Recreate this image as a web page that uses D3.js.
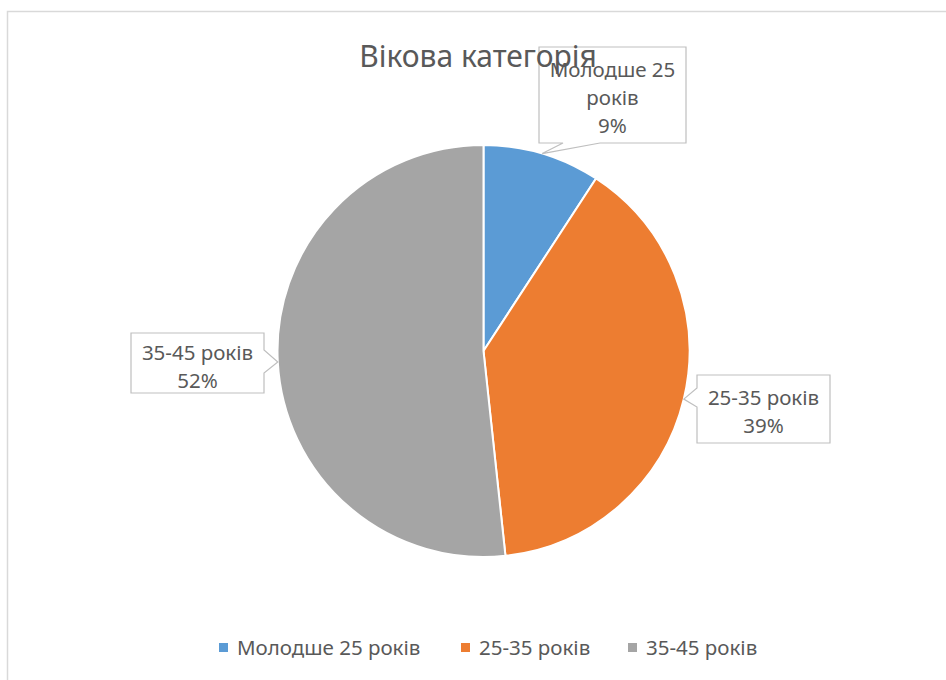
<!DOCTYPE html>
<html><head><meta charset="utf-8">
<script src="https://cdn.jsdelivr.net/npm/d3@7"></script>
<style>body{margin:0;background:#fff}svg{display:block}text{font-family:"Noto Sans",sans-serif;fill:#595959}</style>
</head><body>
<script>
const categories = ["Молодше 25 років", "25-35 років", "35-45 років"];
const labelLines = [["Молодше 25", "років"], ["25-35 років"], ["35-45 років"]];
const values = [9.2, 39.1, 51.7];
const colors = ["#5B9BD5", "#ED7D31", "#A5A5A5"];
const title = "Вікова категорія";

const W = 946, H = 680;
const svg = d3.select("body").append("svg").attr("width", W).attr("height", H);
svg.append("rect").attr("x", 7.5).attr("y", 11.5).attr("width", W).attr("height", H)
  .attr("fill", "#fff").attr("stroke", "#d9d9d9").attr("stroke-width", 1.5);

const cx = 483.5, cy = 351, r = 206;
const pie = d3.pie().sort(null).value(d => d);
const arcs = pie(values);
const arc = d3.arc().innerRadius(0).outerRadius(r);
const edge = d3.arc().innerRadius(r).outerRadius(r);
const g = svg.append("g").attr("transform", `translate(${cx},${cy})`);
g.selectAll("path").data(arcs).join("path")
  .attr("d", arc).attr("fill", (d, i) => colors[i])
  .attr("stroke", "#fff").attr("stroke-width", 2);

// callout layout: box rect (absolute), side of pointer, pointer base coords
const boxes = [
  {x0: 539, y0: 47, x1: 686, y1: 143, side: "bottom", b: [600, 563], ty: 70},
  {x0: 697, y0: 375, x1: 830, y1: 443, side: "left", b: [407, 388], ty: 398},
  {x0: 131, y0: 333, x1: 264, y1: 393, side: "right", b: [350, 373], ty: 353}
];
const fmt = d3.format(".0%");
const total = d3.sum(values);
arcs.forEach((a, i) => {
  const bx = boxes[i];
  const c = edge.centroid(a);
  const tx = cx + c[0], ty = cy + c[1];
  let p;
  if (bx.side === "bottom") p = `M${bx.x0},${bx.y0}H${bx.x1}V${bx.y1}H${bx.b[0]}L${tx},${ty}L${bx.b[1]},${bx.y1}H${bx.x0}Z`;
  else if (bx.side === "left") p = `M${bx.x0},${bx.y0}H${bx.x1}V${bx.y1}H${bx.x0}V${bx.b[0]}L${tx},${ty}L${bx.x0},${bx.b[1]}Z`;
  else p = `M${bx.x0},${bx.y0}H${bx.x1}V${bx.b[0]}L${tx},${ty}L${bx.x1},${bx.b[1]}V${bx.y1}H${bx.x0}Z`;
  svg.append("path").attr("d", p).attr("fill", "#fff").attr("stroke", "#bfbfbf").attr("stroke-width", 1.2);
  const lines = labelLines[i].concat([fmt(values[i] / total)]);
  const mx = (bx.x0 + bx.x1) / 2;
  lines.forEach((s, k) => {
    svg.append("text").attr("x", mx).attr("y", bx.ty + k * 28).attr("dy", "0.35em")
      .attr("text-anchor", "middle").style("font-size", "20.5px").text(s);
  });
});

svg.append("text").attr("x", 478).attr("y", 67).attr("text-anchor", "middle")
  .style("font-size", "30px").text(title);

// legend
const legX = [219, 461, 628];
const lg = svg.append("g");
categories.forEach((c, i) => {
  lg.append("rect").attr("x", legX[i]).attr("y", 643).attr("width", 9).attr("height", 9).attr("fill", colors[i]);
  lg.append("text").attr("x", legX[i] + 18).attr("y", 648).attr("dy", "0.35em").style("font-size", "20.5px").text(c);
});
</script>
</body></html>
